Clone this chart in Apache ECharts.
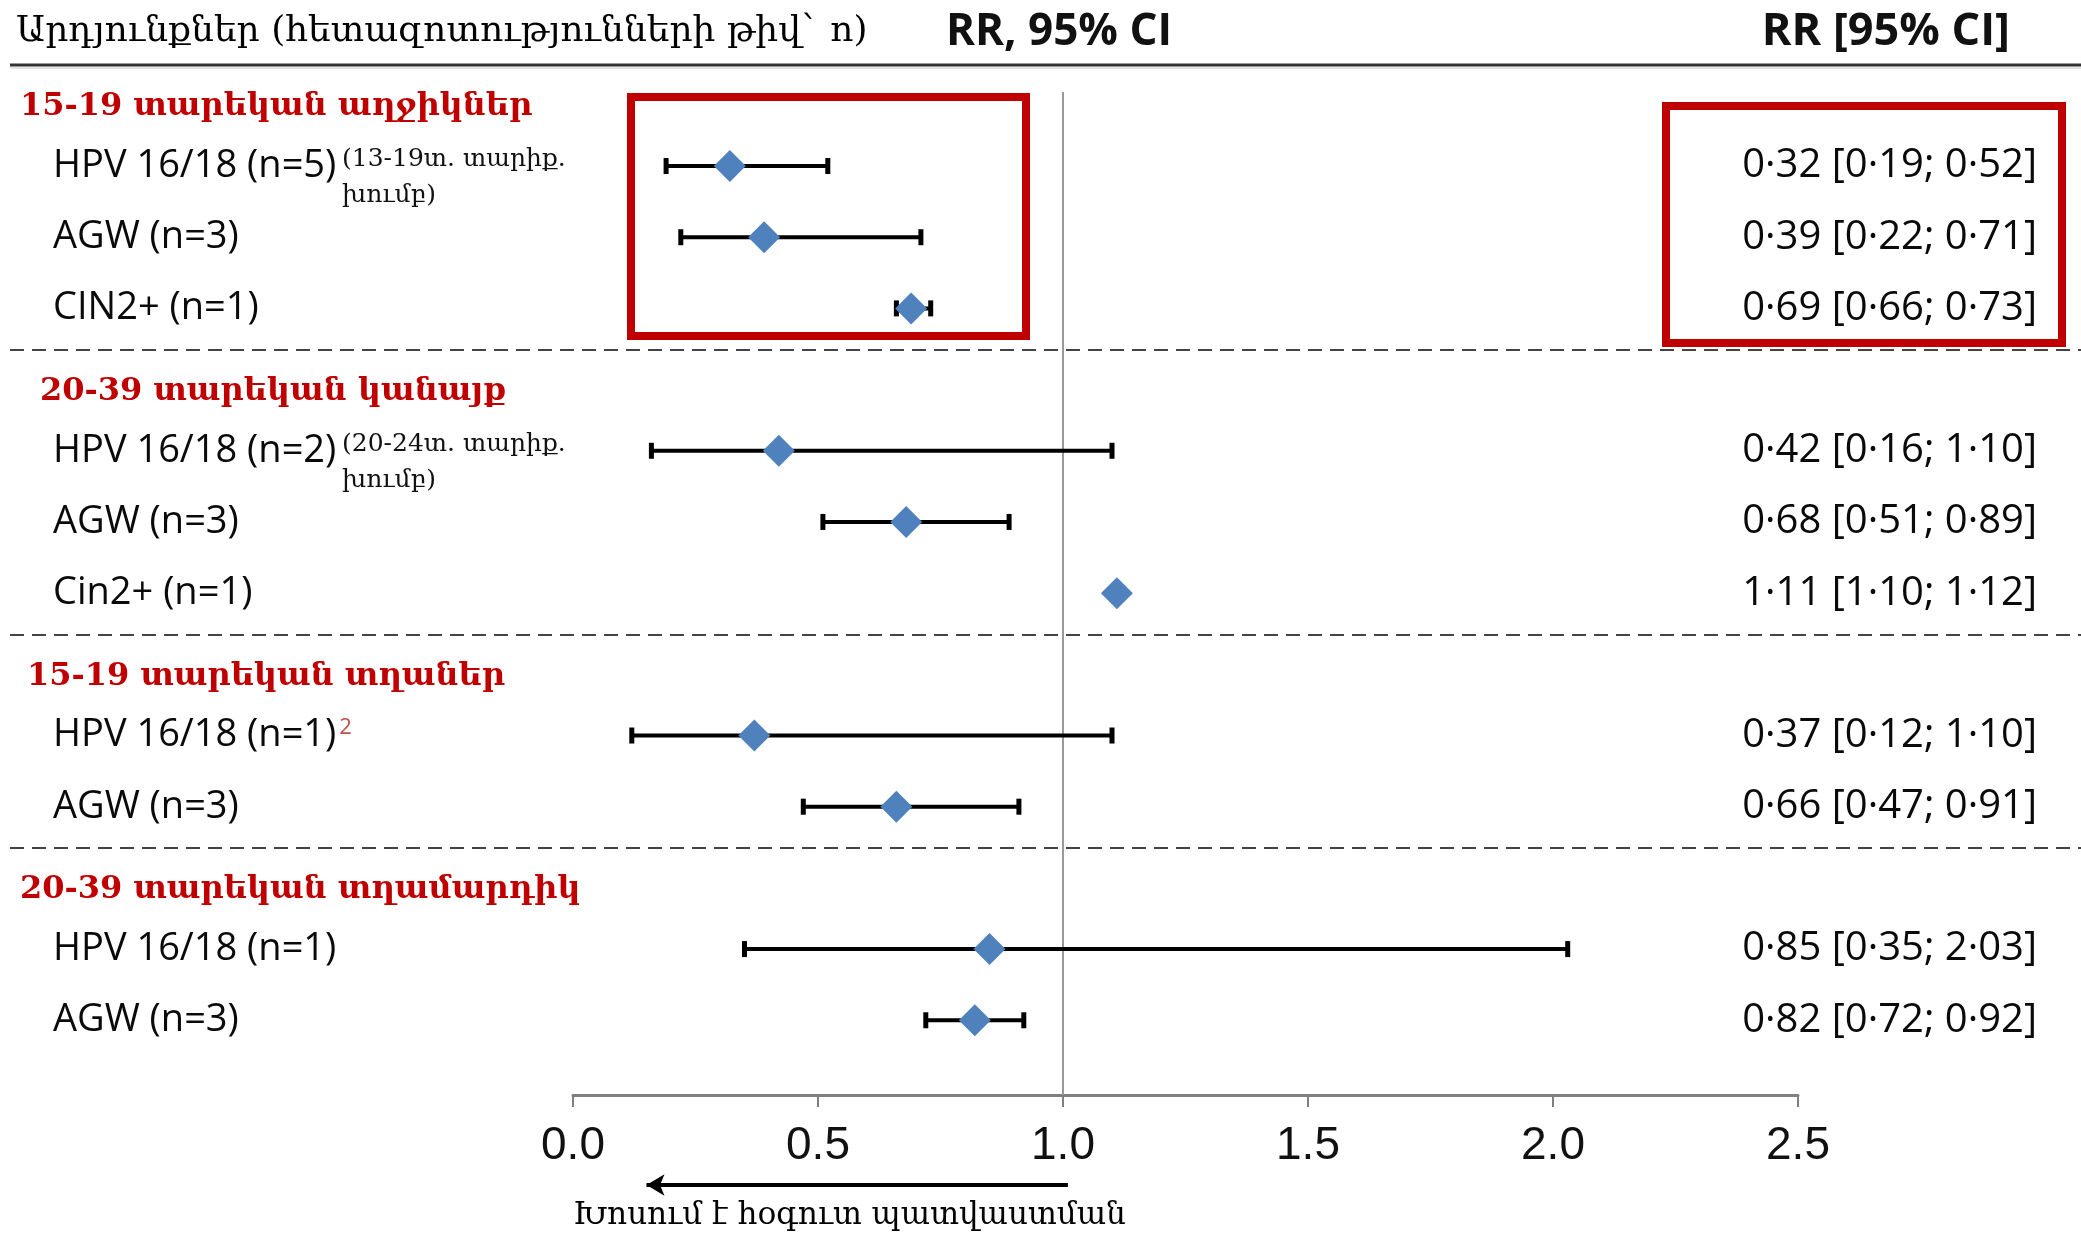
<!DOCTYPE html>
<html>
<head>
<meta charset="utf-8">
<script src="https://cdn.jsdelivr.net/npm/echarts@6/dist/echarts.min.js"></script>
<style>
  html, body { margin: 0; padding: 0; background: #fff; }
  #forest { width: 2081px; height: 1233px; }
</style>
</head>
<body>
<div id="forest"></div>
<script>
const groupTitles = ['15-19 տարեկան աղջիկներ', '20-39 տարեկան կանայք', '15-19 տարեկան տղաներ', '20-39 տարեկան տղամարդիկ'];
const groupSizes = [3, 3, 2, 2];
const outcomes = ['HPV 16/18 (n=5)', 'AGW (n=3)', 'CIN2+ (n=1)',
                  'HPV 16/18 (n=2)', 'AGW (n=3)', 'Cin2+ (n=1)',
                  'HPV 16/18 (n=1)', 'AGW (n=3)',
                  'HPV 16/18 (n=1)', 'AGW (n=3)'];
const rr     = [0.32, 0.39, 0.69, 0.42, 0.68, 1.11, 0.37, 0.66, 0.85, 0.82];
const ciLow  = [0.19, 0.22, 0.66, 0.16, 0.51, 1.10, 0.12, 0.47, 0.35, 0.72];
const ciHigh = [0.52, 0.71, 0.73, 1.10, 0.89, 1.12, 1.10, 0.91, 2.03, 0.92];
const notes = { 0: '(13-19տ. տարիք.\nխումբ)', 3: '(20-24տ. տարիք.\nխումբ)' };
const footnotes = { 6: '2' };
const xTicks = [0, 0.5, 1.0, 1.5, 2.0, 2.5];

// row layout: one empty slot before each group for its title
const rowPos = [], titlePos = [], sepPos = [];
let k = 0;
groupSizes.forEach((n, g) => {
    titlePos.push(k + g - 0.83);
    for (let i = 0; i < n; i++) rowPos.push(k + i + g);
    k += n;
    if (g < groupSizes.length - 1) sepPos.push(k - 1 + g + 0.58);
});

const key = v => Number(v).toFixed(3);
const fmt = v => v.toFixed(2).replace('.', '·');

const leftLabels = {};
titlePos.forEach((p, i) => { leftLabels[key(p)] = '{title' + i + '|' + groupTitles[i] + '}'; });
rowPos.forEach((p, i) => {
    leftLabels[key(p)] = '{row|' + outcomes[i] + '}' + (footnotes[i] ? '{sup|' + footnotes[i] + '}' : '');
});
const noteOffset = 0.16;
const notePos = [], noteLabels = {};
Object.keys(notes).forEach(i => {
    const p = rowPos[i] + noteOffset;
    notePos.push(p);
    noteLabels[key(p)] = notes[i];
});
const ciLabels = {};
rowPos.forEach((p, i) => {
    ciLabels[key(p)] = fmt(rr[i]) + ' [' + fmt(ciLow[i]) + '; ' + fmt(ciHigh[i]) + ']';
});

const yMin = -1.04, yMax = 13.05;
const yBase = { type: 'value', inverse: true, min: yMin, max: yMax,
    axisLine: { show: false }, axisTick: { show: false }, splitLine: { show: false } };

const titleStyle = pad => ({ fontFamily: 'DejaVu Serif', fontWeight: 'bold', fontSize: 32, color: '#c00000', padding: [0, 0, 0, pad] });

const chart = echarts.init(document.getElementById('forest'));

chart.setOption({
    backgroundColor: '#fff',
    animation: false,
    grid: { left: 573, right: 283, top: 92, bottom: 138 },
    xAxis: {
        type: 'value',
        min: xTicks[0],
        max: xTicks[xTicks.length - 1],
        interval: xTicks[1] - xTicks[0],
        splitLine: { show: false },
        axisLine: { onZero: false, lineStyle: { color: '#808080', width: 3 } },
        axisTick: { length: 12, lineStyle: { color: '#808080', width: 2 } },
        axisLabel: {
            margin: 28,
            fontFamily: 'Liberation Sans',
            fontSize: 46,
            color: '#111',
            formatter: v => v.toFixed(1)
        }
    },
    yAxis: [
        Object.assign({}, yBase, {
            position: 'left',
            axisLabel: {
                customValues: titlePos.concat(rowPos),
                align: 'left',
                margin: 553,
                formatter: v => leftLabels[key(v)] || '',
                rich: {
                    title0: titleStyle(0),
                    title1: titleStyle(20),
                    title2: titleStyle(7),
                    title3: titleStyle(0),
                    row: { fontFamily: 'Open Sans', fontSize: 38, color: '#0a0a0a', padding: [0, 0, 0, 33] },
                    sup: { fontFamily: 'Open Sans', fontSize: 22, color: '#c0504d', verticalAlign: 'top', padding: [0, 0, 14, 3] }
                }
            }
        }),
        Object.assign({}, yBase, {
            position: 'left',
            axisLabel: {
                customValues: notePos,
                align: 'left',
                margin: 231,
                fontFamily: 'DejaVu Serif',
                fontSize: 25,
                lineHeight: 36,
                color: '#111',
                formatter: v => noteLabels[key(v)] || ''
            }
        }),
        Object.assign({}, yBase, {
            position: 'right',
            axisLabel: {
                customValues: rowPos,
                align: 'right',
                margin: 239,
                fontFamily: 'Open Sans',
                fontSize: 40,
                color: '#0a0a0a',
                formatter: v => ciLabels[key(v)] || ''
            }
        })
    ],
    graphic: [
        { type: 'text', x: 16, y: 32, style: { text: 'Արդյունքներ (հետազոտությունների թիվ` n)', font: '36px "DejaVu Serif"', fill: '#000', textVerticalAlign: 'middle' } },
        { type: 'text', x: 1059, y: 32, style: { text: 'RR, 95% CI', font: 'bold 44px "Open Sans"', fill: '#111', textAlign: 'center', textVerticalAlign: 'middle' } },
        { type: 'text', x: 2010, y: 32, style: { text: 'RR [95% CI]', font: 'bold 45px "Open Sans"', fill: '#111', textAlign: 'right', textVerticalAlign: 'middle' } },
        { type: 'line', shape: { x1: 10, y1: 65, x2: 2081, y2: 65 }, style: { stroke: '#333', lineWidth: 3 } },
        { type: 'line', shape: { x1: 10, y1: 68, x2: 2081, y2: 68 }, style: { stroke: '#c8c8c8', lineWidth: 1 } },
        { type: 'rect', shape: { x: 631, y: 97, width: 395, height: 239 }, style: { fill: 'none', stroke: '#c00000', lineWidth: 8 } },
        { type: 'rect', shape: { x: 1666, y: 106, width: 396, height: 237 }, style: { fill: 'none', stroke: '#c00000', lineWidth: 8 } },
        { type: 'text', x: 573, y: 1216, style: { text: 'Խոսում է հօգուտ պատվաստման', font: '31px "DejaVu Serif"', fill: '#000', textVerticalAlign: 'middle' } }
    ],
    series: [
        {
            name: 'CI',
            type: 'custom',
            clip: false,
            z: 3,
            data: rowPos.map((p, i) => [ciLow[i], ciHigh[i], p]),
            encode: { x: [0, 1], y: 2 },
            renderItem: function (params, api) {
                const a = api.coord([api.value(0), api.value(2)]);
                const b = api.coord([api.value(1), api.value(2)]);
                const h = 8;
                const cap = { stroke: '#000', lineWidth: 5 };
                return {
                    type: 'group',
                    children: [
                        { type: 'line', shape: { x1: a[0], y1: a[1], x2: b[0], y2: b[1] }, style: { stroke: '#000', lineWidth: 4 } },
                        { type: 'line', shape: { x1: a[0], y1: a[1] - h, x2: a[0], y2: a[1] + h }, style: cap },
                        { type: 'line', shape: { x1: b[0], y1: b[1] - h, x2: b[0], y2: b[1] + h }, style: cap }
                    ]
                };
            },
            markLine: {
                silent: true,
                z: 1,
                symbol: 'none',
                label: { show: false },
                data: [
                    { xAxis: 1, lineStyle: { color: '#999', width: 2, type: 'solid' } }
                ].concat(sepPos.map(s => [
                    { x: 10, yAxis: s, lineStyle: { color: '#444', width: 2, type: [14, 8] } },
                    { x: 2081, yAxis: s }
                ])).concat([[
                    { xAxis: 1.01, y: 1185, lineStyle: { color: '#000', width: 4, type: 'solid' } },
                    { xAxis: 0.15, y: 1185, symbol: 'arrow', symbolSize: [16, 18] }
                ]])
            }
        },
        {
            name: 'RR',
            type: 'scatter',
            z: 4,
            symbol: 'diamond',
            symbolSize: 32,
            itemStyle: { color: '#4f81bd', opacity: 1 },
            data: rowPos.map((p, i) => [rr[i], p])
        }
    ]
});
</script>
</body>
</html>
